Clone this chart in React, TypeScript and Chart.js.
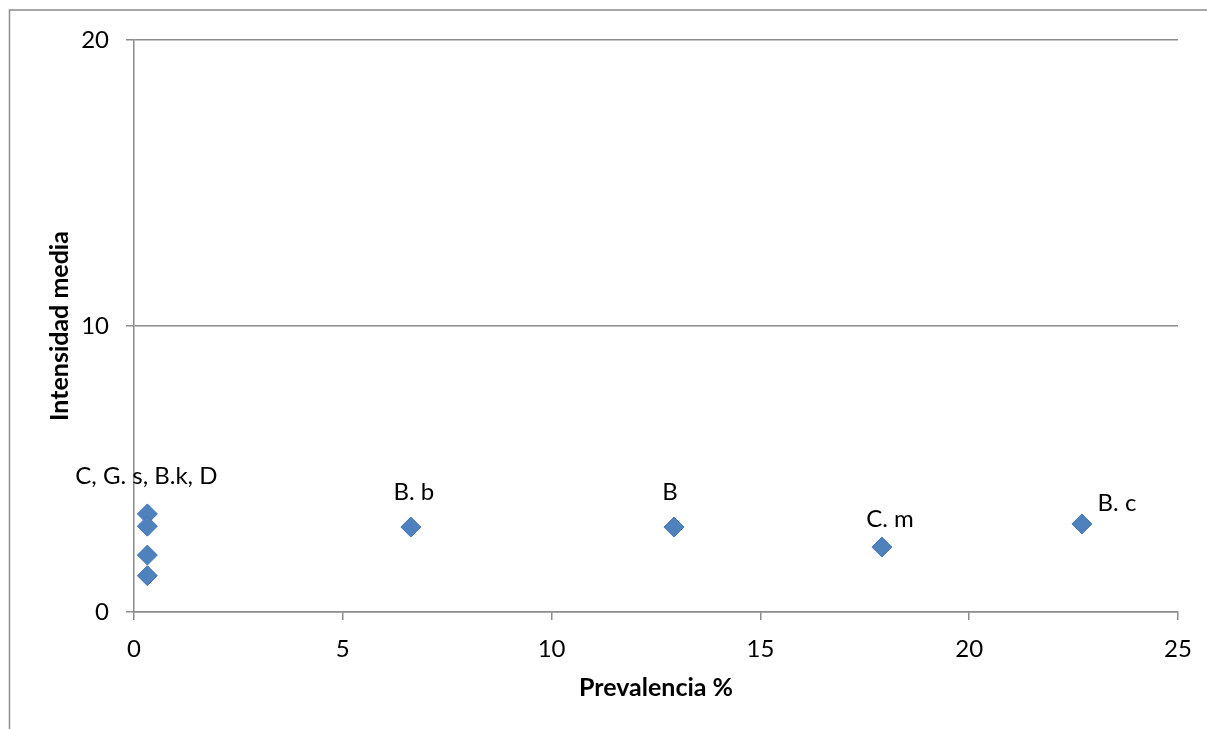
import React, { useEffect, useRef } from "react";
import { Chart, registerables } from "chart.js";

Chart.register(...registerables);

const prevalence = [0.32, 0.32, 0.32, 0.32, 6.63, 12.93, 17.91, 22.7];
const intensity = [3.43, 3.0, 1.99, 1.27, 2.97, 2.97, 2.27, 3.08];
const pointLabels = ["C, G. s, B.k, D", "", "", "", "B. b", "B", "C. m", "B. c"];
const labelDx = [-1, 0, 0, 0, 3, -4, 8, 35];
const labelDy = [-38, 0, 0, 0, -35, -35, -28, -21];
const xTitle = "Prevalencia %";
const yTitle = "Intensidad media";

const FONT = "Lato, 'Open Sans', sans-serif";
const GRAY = "#8c8c8c";

const labelsPlugin = {
  id: "pointTextLabels",
  afterDatasetsDraw(chart: any) {
    const meta = chart.getDatasetMeta(0);
    const ctx = chart.ctx;
    ctx.save();
    ctx.font = `24px ${FONT}`;
    ctx.fillStyle = "#000";
    ctx.textAlign = "center";
    ctx.textBaseline = "middle";
    meta.data.forEach((el: any, i: number) => {
      const t = pointLabels[i];
      if (!t) return;
      ctx.fillText(t, el.x + labelDx[i], el.y + labelDy[i]);
    });
    ctx.restore();
  },
};

const framePlugin = {
  id: "outerFrame",
  beforeDraw(chart: any) {
    const ctx = chart.ctx;
    ctx.save();
    ctx.fillStyle = "#fff";
    ctx.fillRect(0, 0, chart.width, chart.height);
    ctx.strokeStyle = GRAY;
    ctx.lineWidth = 1.5;
    ctx.strokeRect(9.5, 10, 1400, 1000);
    ctx.restore();
  },
};

export default function App() {
  const ref = useRef<HTMLCanvasElement>(null);
  useEffect(() => {
    if (!ref.current) return;
    const chart = new Chart(ref.current, {
      type: "scatter",
      data: {
        datasets: [
          {
            data: prevalence.map((x, i) => ({ x, y: intensity[i] })),
            backgroundColor: "#4f81bd",
            borderColor: "#4677b5",
            borderWidth: 1,
            pointStyle: "rectRot",
            pointRadius: 10,
          },
        ],
      },
      options: {
        animation: false,
        responsive: false,
        layout: { padding: { top: 40, right: 29, left: 0, bottom: 0 } },
        plugins: { legend: { display: false }, tooltip: { enabled: false } },
        scales: {
          x: {
            type: "linear",
            min: 0,
            max: 25,
            ticks: { stepSize: 5, color: "#000", font: { family: FONT, size: 24 }, padding: 15 },
            grid: { drawOnChartArea: false, drawTicks: true, tickLength: 8, color: GRAY, lineWidth: 1.5 },
            border: { display: true, color: GRAY, width: 1.5 },
            title: {
              display: true,
              text: xTitle,
              color: "#000",
              font: { family: FONT, size: 25, weight: "bold" },
              padding: { top: 0, bottom: 26 },
            },
            afterFit(scale: any) {
              scale.height = 117;
            },
          },
          y: {
            min: 0,
            max: 20,
            ticks: { stepSize: 10, color: "#000", font: { family: FONT, size: 24 }, padding: 17 },
            grid: { drawTicks: true, tickLength: 8, color: GRAY, lineWidth: 1.5 },
            border: { display: true, color: GRAY, width: 1.5 },
            title: {
              display: true,
              text: yTitle,
              color: "#000",
              font: { family: FONT, size: 25, weight: "bold" },
              padding: { top: 45, bottom: 0 },
            },
            afterFit(scale: any) {
              scale.width = 134;
            },
          },
        },
      } as any,
      plugins: [framePlugin, labelsPlugin],
    });
    return () => chart.destroy();
  }, []);
  return (
    <canvas
      ref={ref}
      width={1207}
      height={729}
      style={{ position: "fixed", left: 0, top: 0, display: "block" }}
    />
  );
}
